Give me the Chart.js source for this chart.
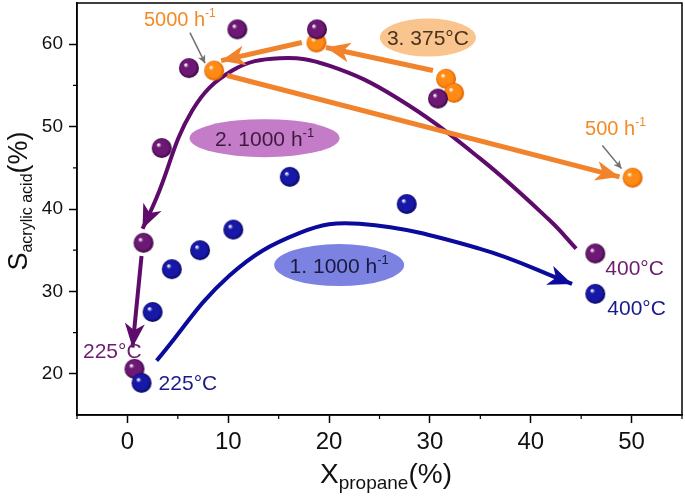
<!DOCTYPE html>
<html>
<head>
<meta charset="utf-8">
<script src="https://cdn.jsdelivr.net/npm/chart.js@4.4.0/dist/chart.umd.min.js"></script>
<style>
  html, body { margin: 0; padding: 0; background: #fff; }
  #wrap { width: 685px; height: 496px; }
</style>
</head>
<body>
<div id="wrap"><canvas id="chart" width="685" height="496"></canvas></div>
<script>
// ticks
const xTicks = [0, 10, 20, 30, 40, 50];
const yTicks = [20, 30, 40, 50, 60];
const xMinor = [-5, 5, 15, 25, 35, 45, 55];
const yMinor = [25, 35, 45, 55];

// 1. 1000 h-1 (blue spheres)
const blueX = [1.4, 2.5, 4.4, 7.2, 10.5, 16.1, 27.7, 46.4];
const blueY = [18.9, 27.5, 32.7, 35.0, 37.5, 43.9, 40.6, 29.7];
// 2. 1000 h-1 (purple spheres)
const purpleX = [0.7, 1.6, 3.4, 6.1, 10.9, 18.8, 30.8, 46.4];
const purpleY = [20.6, 35.9, 47.4, 57.1, 61.8, 61.8, 53.4, 34.6];
// 3. 375°C (orange spheres)
const orangeX = [8.6, 18.75, 31.6, 32.4, 50.1];
const orangeY = [56.8, 60.2, 55.8, 54.1, 43.8];

// guide curves / arrows
const blueCurveX = [2.9, 10.1, 17.1, 23.0, 34.9, 44.1];
const blueCurveY = [21.6, 31.9, 37.1, 38.2, 35.2, 30.9];
const purpleCurveX = [44.5, 41.9, 34.9, 26.7, 20.0, 15.1, 10.4, 6.4, 2.9, 1.5];
const purpleCurveY = [35.2, 38.6, 46.2, 53.5, 57.4, 58.3, 56.8, 51.9, 41.4, 37.6];
const purpleArrowX = [1.4, 0.5];
const purpleArrowY = [34.3, 23.2];
const orangeArrow1X = [30.3, 19.7];
const orangeArrow1Y = [56.8, 59.6];
const orangeArrow2X = [17.3, 9.3];
const orangeArrow2Y = [60.2, 58.0];
const orangeArrow3X = [9.9, 48.8];
const orangeArrow3Y = [56.2, 43.9];
const grayArrow1X = [6.2, 7.7];
const grayArrow1Y = [61.4, 57.7];
const grayArrow2X = [47.1, 49.0];
const grayArrow2Y = [47.7, 44.9];

const FONT = '"Liberation Sans", Arial, sans-serif';

function pts(xs, ys) {
  return xs.map((x, i) => ({ x: x, y: ys[i] }));
}

// shaded ball marker
function sphere(base, dark) {
  const r = 10;
  const c = document.createElement('canvas');
  c.width = c.height = 2 * r + 2;
  const g = c.getContext('2d');
  const grd = g.createRadialGradient(r - 2.5, r - 2.5, 0.5, r + 1, r + 1, r);
  grd.addColorStop(0, '#ffffff');
  grd.addColorStop(0.22, base);
  grd.addColorStop(0.75, base);
  grd.addColorStop(1, dark);
  g.fillStyle = grd;
  g.beginPath();
  g.arc(r + 1, r + 1, r, 0, Math.PI * 2);
  g.fill();
  return c;
}

function ballSet(xs, ys, base, dark) {
  return {
    data: pts(xs, ys),
    pointStyle: sphere(base, dark),
    pointRadius: 10,
    showLine: false,
    order: 0,
    clip: false
  };
}

function lineSet(xs, ys, color, width, tension, order, arrow) {
  return {
    data: pts(xs, ys),
    showLine: true,
    borderColor: color,
    borderWidth: width,
    tension: tension,
    pointRadius: 0,
    order: order,
    clip: false,
    arrow: arrow
  };
}

// text notes, anchored in data units
const notes = [
  { x: 5.2, y: 63.1, color: '#f28a26', size: 20, sup: true, text: '5000 h', supText: '-1' },
  { x: 48.4, y: 49.9, color: '#f28a26', size: 20, sup: true, text: '500 h', supText: '-1' },
  { x: 29.8, y: 60.8, color: '#4a3220', size: 21, text: '3. 375°C', fill: '#f9c48e', rx: 48, ry: 19 },
  { x: 13.6, y: 48.6, color: '#3c1a3e', size: 21, sup: true, text: '2. 1000 h', supText: '-1', fill: '#c47cc8', rx: 75, ry: 19 },
  { x: 21.0, y: 33.2, color: '#1a1a40', size: 21, sup: true, text: '1. 1000 h', supText: '-1', fill: '#7b82e2', rx: 65, ry: 21 },
  { x: 50.3, y: 32.9, color: '#6b1d6e', size: 21, text: '400°C' },
  { x: 50.5, y: 28.0, color: '#1a1a8a', size: 21, text: '400°C' },
  { x: -1.5, y: 22.8, color: '#6b1d6e', size: 21, text: '225°C' },
  { x: 6.0, y: 18.9, color: '#1a1a8a', size: 21, text: '225°C' }
];

function drawRich(ctx, parts, x, y) {
  // parts: [text, size, dy]; x = centre, y = baseline
  let w = 0;
  parts.forEach(p => { ctx.font = p[1] + 'px ' + FONT; w += ctx.measureText(p[0]).width; });
  let cx = x - w / 2;
  ctx.textAlign = 'left';
  ctx.textBaseline = 'alphabetic';
  parts.forEach(p => {
    ctx.font = p[1] + 'px ' + FONT;
    ctx.fillText(p[0], cx, y + p[2]);
    cx += ctx.measureText(p[0]).width;
  });
}

function arrowHead(ctx, x, y, ang, len, half, color) {
  ctx.save();
  ctx.translate(x, y);
  ctx.rotate(ang);
  ctx.fillStyle = color;
  ctx.beginPath();
  ctx.moveTo(0, 0);
  ctx.lineTo(-len, -half);
  ctx.lineTo(-len * 0.72, 0);
  ctx.lineTo(-len, half);
  ctx.closePath();
  ctx.fill();
  ctx.restore();
}

const decor = {
  id: 'decor',
  beforeDatasetsDraw(chart) {
    const ctx = chart.ctx, xs = chart.scales.x, ys = chart.scales.y;
    ctx.save();
    notes.forEach(n => {
      if (!n.fill) return;
      ctx.fillStyle = n.fill;
      ctx.beginPath();
      ctx.ellipse(xs.getPixelForValue(n.x), ys.getPixelForValue(n.y), n.rx, n.ry, 0, 0, Math.PI * 2);
      ctx.fill();
    });
    ctx.restore();
  },
  afterDatasetDraw(chart, args) {
    const ds = chart.data.datasets[args.index];
    if (!ds.arrow) return;
    const els = args.meta.data;
    const last = els[els.length - 1];
    let px = els[els.length - 2].x, py = els[els.length - 2].y;
    if (last.cp1x !== undefined && ds.tension > 0) { px = last.cp1x; py = last.cp1y; }
    const ang = Math.atan2(last.y - py, last.x - px);
    arrowHead(chart.ctx, last.x, last.y, ang, ds.arrow[0], ds.arrow[1], ds.borderColor);
  },
  afterDraw(chart) {
    const ctx = chart.ctx, a = chart.chartArea, xs = chart.scales.x, ys = chart.scales.y;
    ctx.save();
    // frame
    ctx.strokeStyle = '#000';
    ctx.lineWidth = 1.5;
    ctx.strokeRect(a.left, a.top, a.right - a.left, a.bottom - a.top);
    // minor ticks
    ctx.lineWidth = 1.2;
    ctx.beginPath();
    xMinor.forEach(v => {
      const p = xs.getPixelForValue(v);
      ctx.moveTo(p, a.bottom); ctx.lineTo(p, a.bottom + 4);
    });
    yMinor.forEach(v => {
      const p = ys.getPixelForValue(v);
      ctx.moveTo(a.left, p); ctx.lineTo(a.left - 4, p);
    });
    ctx.stroke();
    // notes
    notes.forEach(n => {
      ctx.fillStyle = n.color;
      const cx = xs.getPixelForValue(n.x);
      const base = ys.getPixelForValue(n.y) + n.size * 0.36;
      const parts = [[n.text, n.size, 0]];
      if (n.sup) parts.push([n.supText, Math.round(n.size * 0.62), -n.size * 0.42]);
      drawRich(ctx, parts, cx, base);
    });
    // axis titles
    ctx.fillStyle = '#111';
    drawRich(ctx, [['X', 28, 0], ['propane', 19, 6], ['(%)', 28, 0]], 386, 483);
    ctx.translate(27, 201);
    ctx.rotate(-Math.PI / 2);
    drawRich(ctx, [['S', 27, 0], ['acrylic acid', 16, 5], ['(%)', 27, 0]], 0, 0);
    ctx.restore();
  }
};

function noPad(s) {
  s.paddingLeft = 0; s.paddingRight = 0; s.paddingTop = 0; s.paddingBottom = 0;
}

new Chart(document.getElementById('chart'), {
  type: 'scatter',
  data: {
    datasets: [
      ballSet(blueX, blueY, '#1818a8', '#05055a'),
      ballSet(purpleX, purpleY, '#6e1876', '#36063c'),
      ballSet(orangeX, orangeY, '#ff8a14', '#d95e00'),
      lineSet(orangeArrow1X, orangeArrow1Y, '#f0832c', 5, 0, 1, [24, 10]),
      lineSet(orangeArrow2X, orangeArrow2Y, '#f0832c', 5, 0, 1, [24, 10]),
      lineSet(orangeArrow3X, orangeArrow3Y, '#f0832c', 5, 0, 1, [24, 10]),
      lineSet(grayArrow1X, grayArrow1Y, '#707070', 1.5, 0, 1, [8, 4]),
      lineSet(grayArrow2X, grayArrow2Y, '#707070', 1.5, 0, 1, [8, 4]),
      lineSet(purpleArrowX, purpleArrowY, '#5e0b6b', 4, 0, 2, [24, 10]),
      lineSet(purpleCurveX, purpleCurveY, '#5e0b6b', 4, 0.4, 2, [24, 10]),
      lineSet(blueCurveX, blueCurveY, '#0a0a9c', 4, 0.4, 2, [24, 10])
    ]
  },
  options: {
    responsive: false,
    animation: false,
    events: [],
    layout: { autoPadding: false, padding: { top: 3, right: 3, left: 0, bottom: 0 } },
    plugins: { legend: { display: false }, tooltip: { enabled: false } },
    scales: {
      x: {
        type: 'linear',
        min: -5,
        max: 55,
        afterBuildTicks: s => { s.ticks = xTicks.map(v => ({ value: v })); },
        afterFit: s => { s.height = 81; noPad(s); },
        grid: { drawOnChartArea: false, drawTicks: true, tickLength: 8, tickWidth: 1.5, tickColor: '#000' },
        border: { display: true, color: '#000', width: 1.5 },
        ticks: { font: { size: 24, family: FONT }, color: '#111', padding: 5, maxRotation: 0 }
      },
      y: {
        type: 'linear',
        min: 15,
        max: 65,
        afterBuildTicks: s => { s.ticks = yTicks.map(v => ({ value: v })); },
        afterFit: s => { s.width = 77; noPad(s); },
        grid: { drawOnChartArea: false, drawTicks: true, tickLength: 8, tickWidth: 1.5, tickColor: '#000' },
        border: { display: true, color: '#000', width: 1.5 },
        ticks: { font: { size: 19, family: FONT }, color: '#111', padding: 6 }
      }
    }
  },
  plugins: [decor]
});
</script>
</body>
</html>
